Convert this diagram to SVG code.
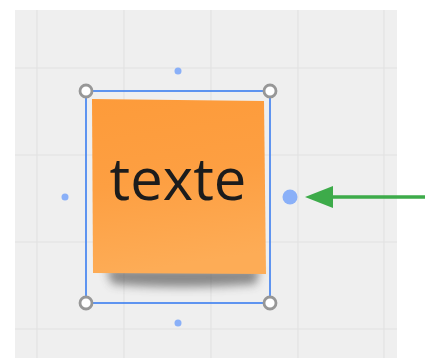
<svg xmlns="http://www.w3.org/2000/svg" width="425" height="358" viewBox="0 0 425 358">
<defs>
<linearGradient id="note" x1="0" y1="0" x2="0.15" y2="1">
<stop offset="0" stop-color="#fd9b3a"/>
<stop offset="0.5" stop-color="#fd9f42"/>
<stop offset="1" stop-color="#fdac56"/>
</linearGradient>
<filter id="blur" x="-20%" y="-100%" width="140%" height="300%"><feGaussianBlur stdDeviation="5"/></filter>
</defs>
<style>
.grid{stroke:#e2e2e2;stroke-width:1.2}
.handle{fill:#fff;stroke:#979797;stroke-width:2.8}
.dot{fill:#8ab0f8}
.sel{fill:none;stroke:#3a7ef0;stroke-width:1.6}
.lbl{font-family:"Open Sans","Noto Sans",sans-serif;font-size:58px;fill:#1c1c1c}
</style>
<rect x="15" y="10" width="382" height="348" fill="#efefef"/>
<g id="grid">
<line class="grid" x1="37" y1="10" x2="37" y2="358"/>
<line class="grid" x1="124" y1="10" x2="124" y2="358"/>
<line class="grid" x1="211" y1="10" x2="211" y2="358"/>
<line class="grid" x1="298" y1="10" x2="298" y2="358"/>
<line class="grid" x1="384" y1="10" x2="384" y2="358"/>
<line class="grid" x1="15" y1="68" x2="397" y2="68"/>
<line class="grid" x1="15" y1="155" x2="397" y2="155"/>
<line class="grid" x1="15" y1="242" x2="397" y2="242"/>
<line class="grid" x1="15" y1="329" x2="397" y2="329"/>
</g>
<g id="note">
<path d="M106,268 L260,268 L256,284 Q180,290 112,284 Z" fill="#444" opacity="0.6" filter="url(#blur)"/>
<polygon points="92,99 264,101 266,274 93,273" fill="url(#note)"/>
<text class="lbl" x="178" y="200" text-anchor="middle">texte</text>
</g>
<g id="selection">
<rect class="sel" x="86" y="91" width="184" height="212"/>
<circle class="handle" cx="86" cy="91" r="6"/>
<circle class="handle" cx="270" cy="91" r="6"/>
<circle class="handle" cx="86" cy="303" r="6"/>
<circle class="handle" cx="270" cy="303" r="6"/>
<circle class="dot" cx="178" cy="71" r="3.5"/>
<circle class="dot" cx="178" cy="323" r="3.5"/>
<circle class="dot" cx="65" cy="197" r="3.5"/>
<circle class="dot" cx="290" cy="197" r="7.5"/>
</g>
<g id="connectors">
<line x1="425" y1="197" x2="332" y2="197" stroke="#3dab4a" stroke-width="3.5"/>
<path d="M333,186 L305,197 L333,208 Z" fill="#3dab4a"/>
</g>
</svg>
